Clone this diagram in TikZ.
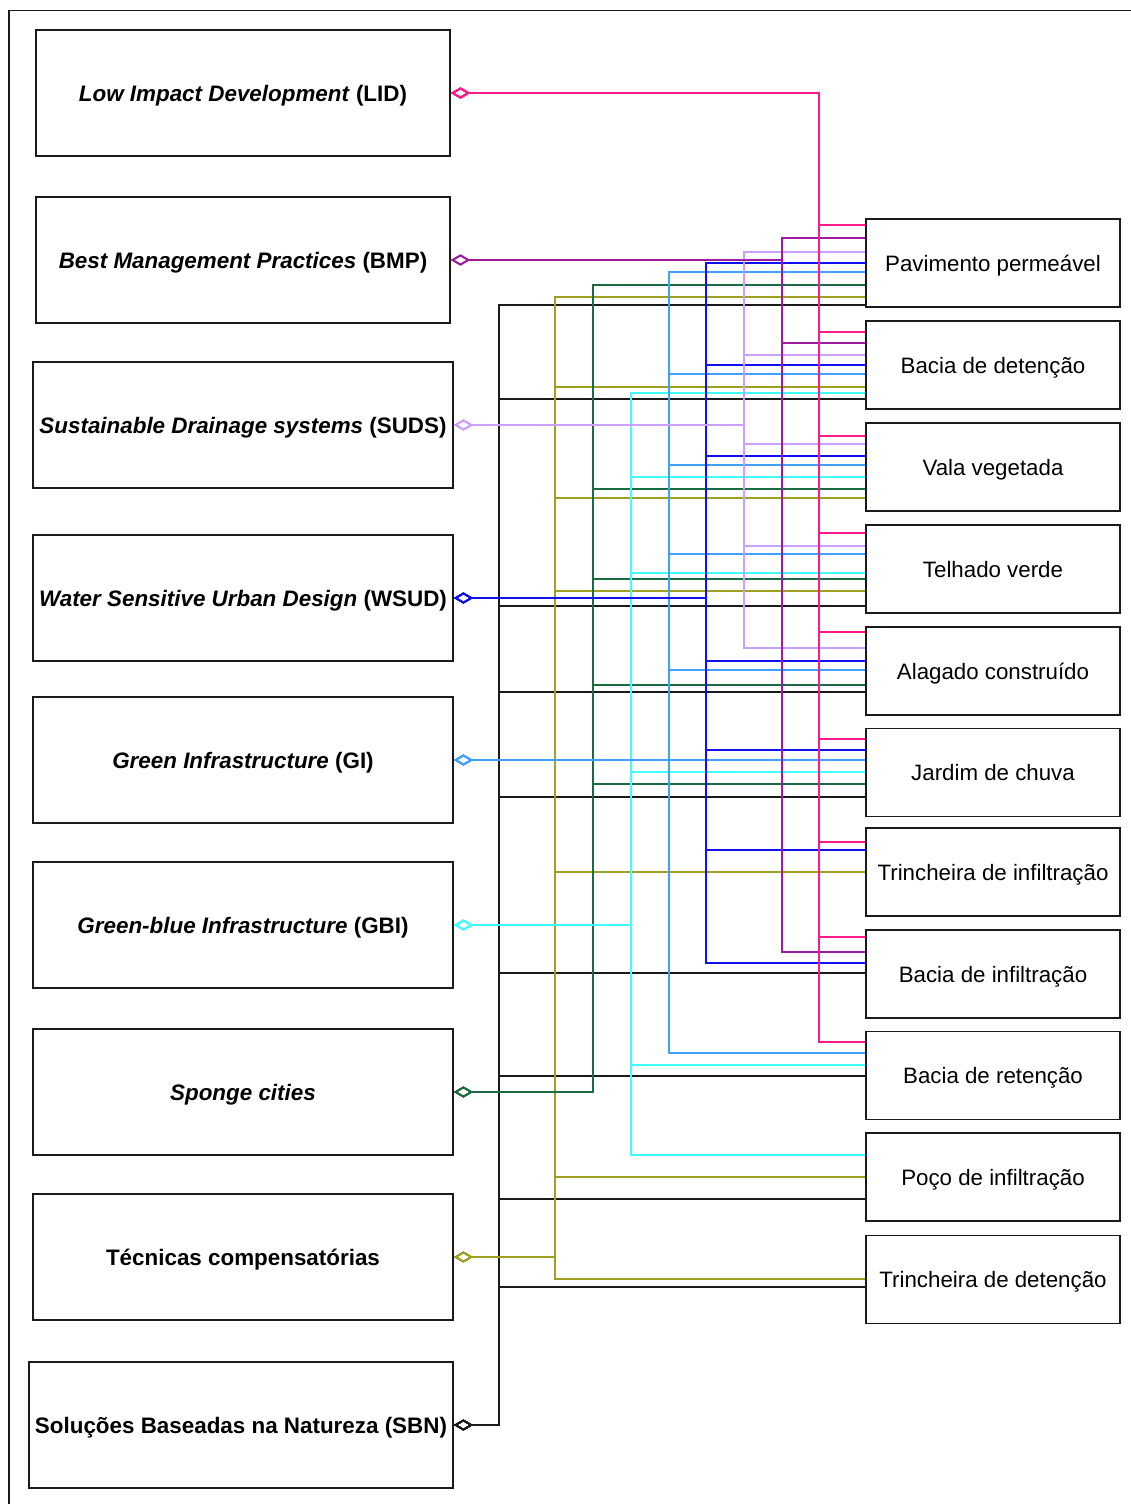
\documentclass[tikz,border=0pt]{standalone}
\usepackage{fontspec}
\setmainfont{Liberation Sans}
\usetikzlibrary{arrows.meta}
\definecolor{cpink}{HTML}{FF1A8C}
\definecolor{cpurple}{HTML}{9E1AA0}
\definecolor{clav}{HTML}{CCA0FF}
\definecolor{cblue}{HTML}{1010F0}
\definecolor{clblue}{HTML}{3FA0FF}
\definecolor{ccyan}{HTML}{40FFFF}
\definecolor{cgreen}{HTML}{1A6B40}
\definecolor{colive}{HTML}{A0A020}
\definecolor{cblack}{HTML}{1A1A1A}
\begin{document}
\begin{tikzpicture}[x=1pt,y=-1pt,
  lbox/.style={draw=cblack,line width=1.8pt,align=center,inner sep=0pt,text depth=0pt,
    font=\fontsize{22.4}{26}\selectfont\bfseries},
  rbox/.style={draw=cblack,line width=1.8pt,align=center,inner sep=0pt,text depth=0pt,
    minimum width=254pt,minimum height=88pt,font=\fontsize{22.3}{26}\selectfont},
  conn/.style={line width=1.8pt},
  src/.style={conn,{Diamond[open,length=19pt,width=11pt,line width=1.6pt]}-}]
\useasboundingbox (0,0) rectangle (1131,1504);
\draw[line width=1.8pt,cblack] (9,1504) -- (9,10.5) -- (1131,10.5);

% left boxes
\node[lbox,minimum width=414pt,minimum height=126pt] (lid) at (243,93) {\textit{Low Impact Development} (LID)};
\node[lbox,minimum width=414pt,minimum height=126pt] (bmp) at (243,260) {\textit{Best Management Practices} (BMP)};
\node[lbox,minimum width=420pt,minimum height=126pt] (suds) at (243,425) {\textit{Sustainable Drainage systems} (SUDS)};
\node[lbox,minimum width=420pt,minimum height=126pt] (wsud) at (243,598) {\textit{Water Sensitive Urban Design} (WSUD)};
\node[lbox,minimum width=420pt,minimum height=126pt] (gi) at (243,760) {\textit{Green Infrastructure} (GI)};
\node[lbox,minimum width=420pt,minimum height=126pt] (gbi) at (243,925) {\textit{Green-blue Infrastructure} (GBI)};
\node[lbox,minimum width=420pt,minimum height=126pt] (sponge) at (243,1092) {\textit{Sponge cities}};
\node[lbox,minimum width=420pt,minimum height=126pt] (tec) at (243,1257) {Técnicas compensatórias};
\node[lbox,minimum width=424pt,minimum height=126pt] (sbn) at (241,1425) {Soluções Baseadas na Natureza (SBN)};

% right boxes
\node[rbox] (pav) at (993,263) {Pavimento permeável};
\node[rbox] (bdet) at (993,365) {Bacia de detenção};
\node[rbox] (vala) at (993,467) {Vala vegetada};
\node[rbox] (telh) at (993,569) {Telhado verde};
\node[rbox] (alag) at (993,671) {Alagado construído};
\node[rbox] (jard) at (993,772.5) {Jardim de chuva};
\node[rbox] (tinf) at (993,872) {Trincheira de infiltração};
\node[rbox] (binf) at (993,974) {Bacia de infiltração};
\node[rbox] (bret) at (993,1075.5) {Bacia de retenção};
\node[rbox] (poco) at (993,1177) {Poço de infiltração};
\node[rbox] (tdet) at (993,1279.5) {Trincheira de detenção};

% connectors
\foreach \t/\y in {pav/305,bdet/399,telh/606,alag/692,jard/797,binf/973,bret/1076,poco/1199,tdet/1287}
  \draw[src,cblack] (sbn.east) -| (499,\y) -- (\t.west |- 0,\y);
\foreach \t/\y in {pav/297,bdet/387,vala/498,telh/591,tinf/872,poco/1177,tdet/1279}
  \draw[src,colive] (tec.east) -| (555,\y) -- (\t.west |- 0,\y);
\foreach \t/\y in {pav/285,vala/489,telh/579,alag/685,jard/784}
  \draw[src,cgreen] (sponge.east) -| (593,\y) -- (\t.west |- 0,\y);
\foreach \t/\y in {bdet/393,vala/477,telh/573,jard/772,bret/1065,poco/1155}
  \draw[src,ccyan] (gbi.east) -| (631,\y) -- (\t.west |- 0,\y);
\foreach \t/\y in {pav/272,bdet/374,vala/465,telh/554,alag/670,jard/760,bret/1053}
  \draw[src,clblue] (gi.east) -| (669,\y) -- (\t.west |- 0,\y);
\foreach \t/\y in {pav/263,bdet/365,vala/456,alag/661,jard/750,tinf/850,binf/963}
  \draw[src,cblue] (wsud.east) -| (706,\y) -- (\t.west |- 0,\y);
\foreach \t/\y in {pav/252,bdet/355,vala/444,telh/546,alag/648}
  \draw[src,clav] (suds.east) -| (744,\y) -- (\t.west |- 0,\y);
\foreach \t/\y in {pav/238,bdet/343,binf/952}
  \draw[src,cpurple] (bmp.east) -| (782,\y) -- (\t.west |- 0,\y);
\foreach \t/\y in {pav/225,bdet/332,vala/436,telh/533,alag/632,jard/739,tinf/842,binf/937,bret/1042}
  \draw[src,cpink] (lid.east) -| (819,\y) -- (\t.west |- 0,\y);
\end{tikzpicture}
\end{document}
